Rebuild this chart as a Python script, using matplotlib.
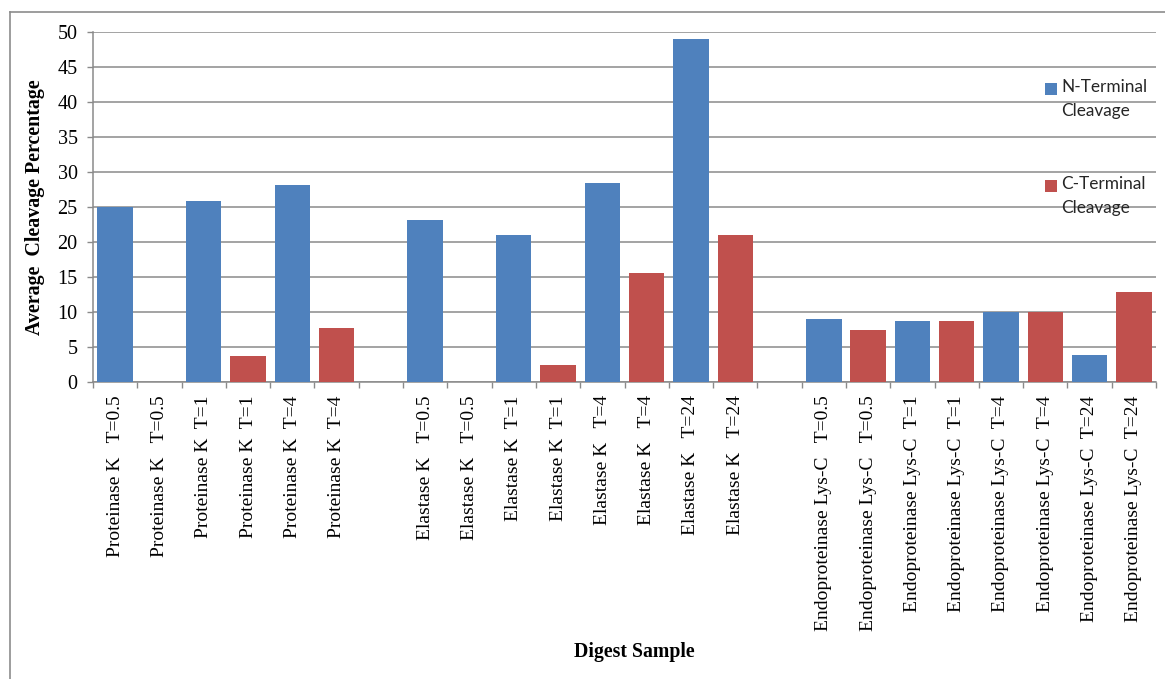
import matplotlib
matplotlib.use("Agg")
import matplotlib.pyplot as plt
from matplotlib.lines import Line2D
from matplotlib.patches import Rectangle

# Cleavage percentages per digest, one value per time point
enzymes = ["Proteinase K", "Elastase K", "Endoproteinase Lys-C"]
time_labels = [
    ["T=0.5", "T=1", "T=4"],
    ["T=0.5", "T=1", "T=4", "T=24"],
    ["T=0.5", "T=1", "T=4", "T=24"],
]
label_gaps = [
    ["   ", "  ", "  "],
    ["   ", "  ", "   ", "   "],
    ["   ", "  ", "  ", "  "],
]
n_terminal_pct = [
    [25.0, 25.8, 28.2],
    [23.1, 21.0, 28.5, 49.0],
    [9.0, 8.7, 10.0, 3.8],
]
c_terminal_pct = [
    [0.0, 3.7, 7.7],
    [0.0, 2.5, 15.6, 21.0],
    [7.4, 8.7, 10.0, 12.9],
]

N_COLOR = "#4F81BD"
C_COLOR = "#C0504D"
GRID_COLOR = "#8a8a8a"
SERIF = ["Liberation Serif", "DejaVu Serif"]

# lay out one slot per bar, with an empty slot between enzymes
slot_labels, slot_values, slot_colors = [], [], []
for g, enzyme in enumerate(enzymes):
    if g > 0:
        slot_labels.append("")
        slot_values.append(0.0)
        slot_colors.append("none")
    for t, tl in enumerate(time_labels[g]):
        text = f"{enzyme}{label_gaps[g][t]}{tl}"
        slot_labels += [text, text]
        slot_values += [n_terminal_pct[g][t], c_terminal_pct[g][t]]
        slot_colors += [N_COLOR, C_COLOR]

positions = list(range(len(slot_labels)))

W, H = 1165, 679
fig = plt.figure(figsize=(W / 100, H / 100), dpi=100)
ax = fig.add_axes([93 / W, 1 - 382 / H, 1063 / W, 350 / H])

ax.bar(positions, slot_values, width=0.8, color=slot_colors, zorder=3)

ax.set_xlim(-0.5, len(positions) - 0.5)
ax.set_ylim(0, 50)
ax.set_yticks(range(0, 51, 5))
ax.yaxis.grid(True, color=GRID_COLOR, linewidth=1.1, zorder=0)

for side in ("top", "right"):
    ax.spines[side].set_visible(False)
for side in ("left", "bottom"):
    ax.spines[side].set_color(GRID_COLOR)
    ax.spines[side].set_linewidth(1.1)

ax.tick_params(axis="y", direction="out", length=4, width=1, color=GRID_COLOR,
               pad=7, labelsize=14.5)
for lbl in ax.get_yticklabels():
    lbl.set_family(SERIF)

# category boundaries get the tick marks, labels sit at bar centres
ax.set_xticks([p - 0.5 for p in positions] + [positions[-1] + 0.5], minor=True)
ax.set_xticks(positions)
ax.set_xticklabels(slot_labels, rotation=90, family=SERIF, fontsize=14,
                   va="top", ha="center")
ax.tick_params(axis="x", which="major", length=0, pad=9.5)
ax.tick_params(axis="x", which="minor", direction="out", length=4, width=1,
               color=GRID_COLOR)

ax.set_ylabel("Average  Cleavage Percentage", family=SERIF, fontweight="bold",
              fontsize=14.4, va="center")
ax.yaxis.set_label_coords((35 - 93) / 1063, 0.5)
ax.set_xlabel("Digest Sample", family=SERIF, fontweight="bold", fontsize=14.2,
              va="center")
ax.xaxis.set_label_coords((634 - 93) / 1063, (382 - 652) / 350)

# legend drawn beside the grid, square aligned with the first text line
legend_items = [("N-Terminal\nCleavage", N_COLOR, 89), ("C-Terminal\nCleavage", C_COLOR, 186)]
for text, color, yc in legend_items:
    fig.patches.append(Rectangle((1045 / W, 1 - (yc + 6) / H), 12 / W, 12 / H,
                                 transform=fig.transFigure, facecolor=color,
                                 edgecolor="none", figure=fig))
    fig.text(1061 / W, 1 - (yc - 10) / H, text, family=["Lato", "DejaVu Sans"],
             fontsize=12.4, color="#262626", va="top", ha="left",
             linespacing=1.65)

# chart-area border
frame_kw = dict(color="#8c8c8c", linewidth=1.2, transform=fig.transFigure)
fig.add_artist(Line2D([9.5 / W, 9.5 / W], [0, 1 - 11.5 / H], **frame_kw))
fig.add_artist(Line2D([9.5 / W, 1], [1 - 11.5 / H, 1 - 11.5 / H], **frame_kw))

fig.savefig("out.png", dpi=100, facecolor="white")
